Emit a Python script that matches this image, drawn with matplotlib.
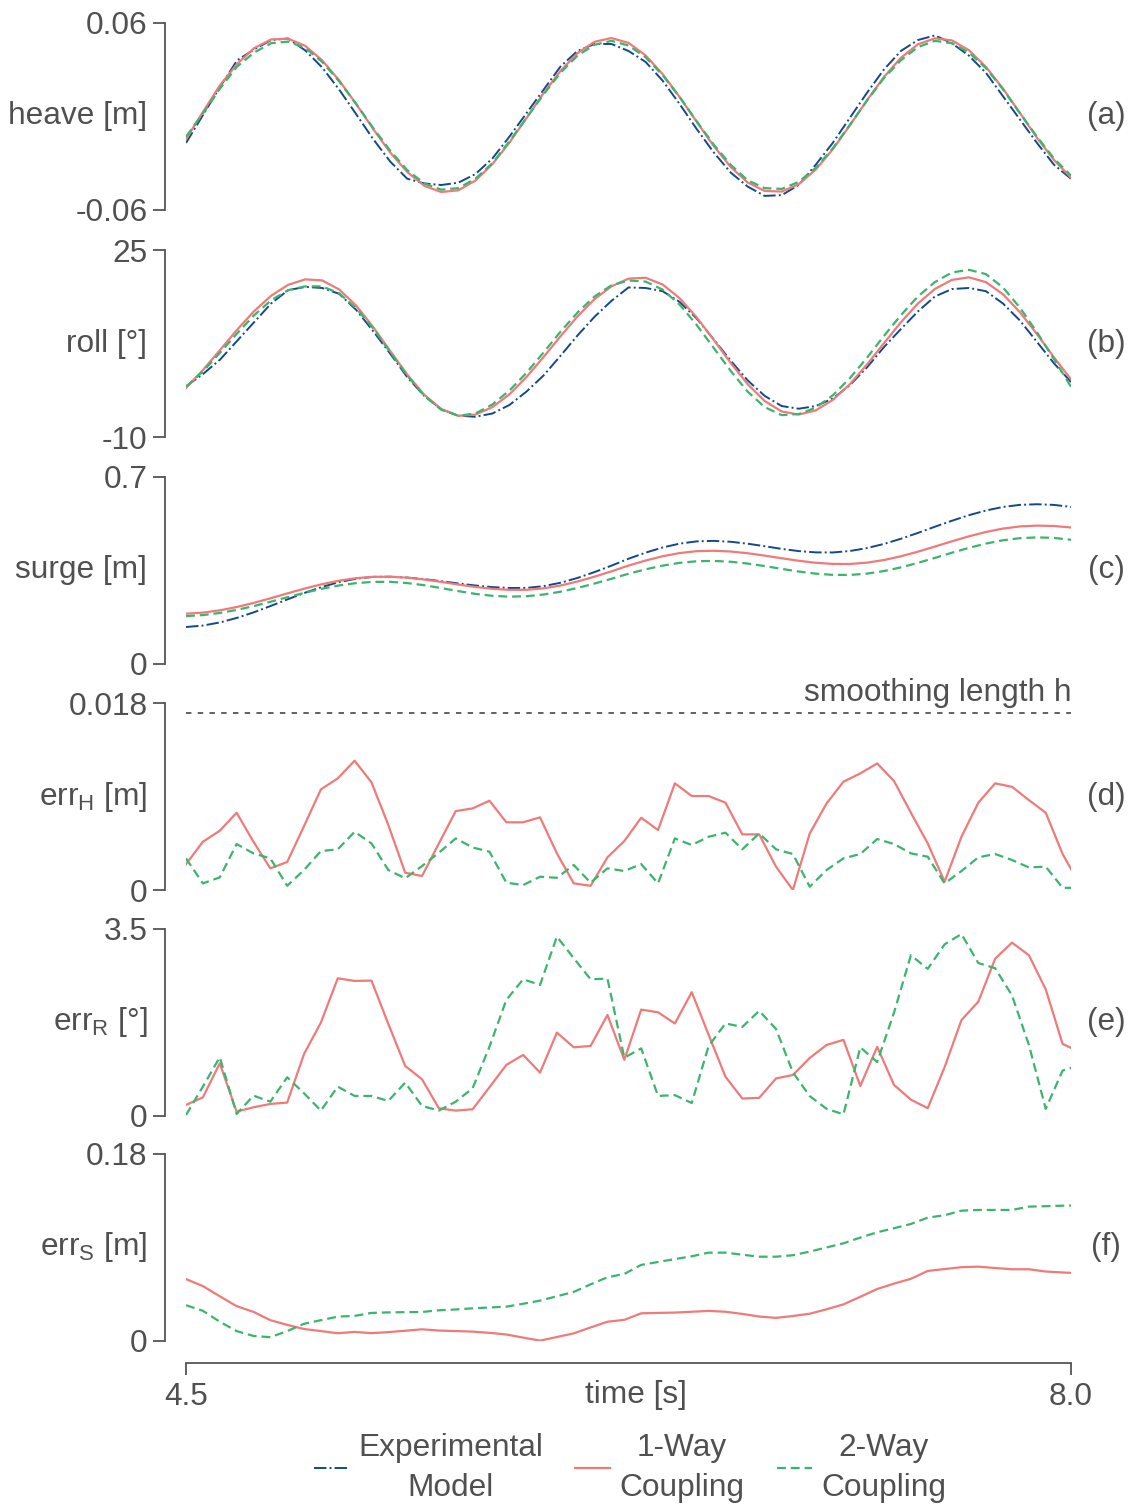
import numpy as np
import matplotlib
matplotlib.use("Agg")
import matplotlib.pyplot as plt

plt.rcParams['font.family'] = ['Liberation Sans', 'DejaVu Sans']
plt.rcParams['mathtext.default'] = 'regular'
plt.rcParams['axes.unicode_minus'] = False

# DATA GOES HERE
# motion signals, sampled evenly from 4.5 s to 8.0 s
t_motion = np.linspace(4.5, 8.0, 53)

heave_exp = [-0.017, 0.001, 0.019, 0.036, 0.043, 0.049, 0.050, 0.0424, 0.0314, 0.0172,
             0.0014, -0.0146, -0.029, -0.040, -0.043, -0.044, -0.0425, -0.037, -0.027, -0.013,
             0.002, 0.017, 0.032, 0.042, 0.0465, 0.0465, 0.042, 0.035, 0.023, 0.008,
             -0.008, -0.023, -0.036, -0.045, -0.051, -0.0505, -0.044, -0.031, -0.017, -0.001,
             0.015, 0.030, 0.042, 0.049, 0.052, 0.047, 0.039, 0.028, 0.013, -0.002,
             -0.017, -0.031, -0.040]
heave_1way = [-0.0145, 0.0030, 0.0201, 0.0337, 0.0438, 0.0494, 0.0499, 0.0453, 0.0360, 0.0231,
              0.0079, -0.0081, -0.0232, -0.0357, -0.0445, -0.0485, -0.0474, -0.0412, -0.0306, -0.0168,
              -0.0011, 0.0148, 0.0292, 0.0406, 0.0479, 0.0503, 0.0472, 0.0392, 0.0272, 0.0125,
              -0.0034, -0.0189, -0.0324, -0.0424, -0.0478, -0.0482, -0.0435, -0.0341, -0.0211, -0.0058,
              0.0102, 0.0252, 0.0376, 0.0463, 0.0501, 0.0488, 0.0425, 0.0318, 0.0179, 0.0022,
              -0.0137, -0.0280, -0.0393]
heave_2way = [-0.013, 0.002, 0.018, 0.032, 0.041, 0.047, 0.048, 0.044, 0.035, 0.0225,
              0.008, -0.0075, -0.022, -0.0345, -0.043, -0.047, -0.046, -0.040, -0.030, -0.016,
              -0.001, 0.014, 0.028, 0.039, 0.046, 0.0485, 0.0455, 0.038, 0.0265, 0.0125,
              -0.003, -0.018, -0.031, -0.041, -0.046, -0.0465, -0.042, -0.033, -0.0205, -0.0055,
              0.010, 0.0245, 0.036, 0.0445, 0.0485, 0.047, 0.041, 0.031, 0.0175, 0.002,
              -0.013, -0.027, -0.038]

roll_exp = [-0.5, 1.8, 4.5, 8.0, 11.5, 15.0, 17.5, 18.1, 17.9, 16.8,
            13.8, 9.8, 5.6, 1.2, -2.3, -4.8, -6.0, -6.2, -5.6, -4.0,
            -1.5, 1.5, 5.2, 9.0, 12.5, 15.5, 18.0, 17.9, 17.3, 15.3,
            12.2, 8.3, 4.3, 0.6, -2.3, -4.2, -4.7, -4.2, -2.8, -0.3,
            3.0, 6.8, 10.2, 13.5, 16.3, 17.7, 17.9, 17.3, 15.0, 11.8,
            7.8, 3.8, 0.3]
roll_1way = [-0.80, 2.57, 6.30, 10.08, 13.56, 16.45, 18.49, 19.51, 19.32, 17.62,
             14.59, 10.57, 6.08, 1.69, -2.09, -4.76, -6.04, -5.80, -4.41, -2.01,
             1.22, 4.95, 8.85, 12.58, 15.81, 18.21, 19.65, 19.81, 18.56, 15.99,
             12.41, 8.22, 3.88, -0.10, -3.26, -5.22, -5.79, -5.02, -3.06, -0.12,
             3.53, 7.53, 11.47, 14.98, 17.72, 19.41, 19.89, 18.99, 16.73, 13.36,
             9.27, 4.90, 0.79]
roll_2way = [-0.6, 2.3, 5.8, 9.4, 12.8, 15.6, 17.5, 18.2, 18.2, 16.9,
             14.1, 10.3, 5.9, 1.5, -2.3, -4.9, -6.0, -5.6, -3.9, -1.3,
             2.0, 5.8, 9.7, 13.3, 16.3, 18.4, 19.3, 19.1, 17.6, 14.8,
             11.0, 6.7, 2.4, -1.5, -4.4, -5.9, -5.7, -4.5, -2.2, 1.0,
             4.8, 8.9, 12.8, 16.3, 19.0, 20.8, 21.3, 20.5, 18.0, 14.2,
             9.6, 4.6, -0.6]

surge_exp = [0.1384, 0.1440, 0.1557, 0.1728, 0.1939, 0.2179, 0.2429, 0.2670, 0.2887, 0.3067,
             0.3193, 0.3261, 0.3266, 0.3235, 0.3176, 0.3099, 0.3015, 0.2938, 0.2878, 0.2845,
             0.2848, 0.2913, 0.3041, 0.3221, 0.3441, 0.3682, 0.3941, 0.4168, 0.4360, 0.4506,
             0.4590, 0.4609, 0.4575, 0.4503, 0.4408, 0.4309, 0.4226, 0.4178, 0.4175, 0.4229,
             0.4337, 0.4493, 0.4687, 0.4906, 0.5138, 0.5362, 0.5569, 0.5746, 0.5878, 0.5957,
             0.5980, 0.5955, 0.5880]
surge_1way = [0.1883, 0.1924, 0.2010, 0.2136, 0.2291, 0.2467, 0.2651, 0.2829, 0.2989, 0.3120,
              0.3214, 0.3263, 0.3266, 0.3230, 0.3161, 0.3072, 0.2974, 0.2884, 0.2814, 0.2775,
              0.2777, 0.2830, 0.2937, 0.3087, 0.3269, 0.3469, 0.3684, 0.3873, 0.4033, 0.4153,
              0.4223, 0.4239, 0.4210, 0.4146, 0.4057, 0.3958, 0.3864, 0.3789, 0.3747, 0.3744,
              0.3793, 0.3891, 0.4032, 0.4204, 0.4396, 0.4592, 0.4779, 0.4942, 0.5069, 0.5150,
              0.5180, 0.5165, 0.5110]
surge_2way = [0.1793, 0.1831, 0.1911, 0.2027, 0.2172, 0.2335, 0.2506, 0.2670, 0.2819, 0.2941,
              0.3028, 0.3074, 0.3075, 0.3030, 0.2948, 0.2840, 0.2727, 0.2625, 0.2552, 0.2521,
              0.2536, 0.2600, 0.2705, 0.2846, 0.3011, 0.3190, 0.3379, 0.3543, 0.3682, 0.3786,
              0.3846, 0.3859, 0.3828, 0.3760, 0.3666, 0.3561, 0.3461, 0.3382, 0.3337, 0.3334,
              0.3382, 0.3478, 0.3616, 0.3785, 0.3972, 0.4165, 0.4347, 0.4507, 0.4631, 0.4710,
              0.4740, 0.4720, 0.4650]

# errors, one sample every 1/15 s
t_err = 4.5 + np.arange(54) / 15.0

errH_1way = [0.00250, 0.00465, 0.00571, 0.00744, 0.00465, 0.00209, 0.00270, 0.00616, 0.00969, 0.01075,
             0.01245, 0.01037, 0.00626, 0.00167, 0.00135, 0.00449, 0.00760, 0.00786, 0.00860, 0.00652,
             0.00652, 0.00700, 0.00353, 0.00064, 0.00041, 0.00315, 0.00472, 0.00696, 0.00578, 0.01027,
             0.00905, 0.00905, 0.00841, 0.00536, 0.00536, 0.00225, 0.00000, 0.00545, 0.00834, 0.01043,
             0.01123, 0.01219, 0.01049, 0.00744, 0.00449, 0.00080, 0.00513, 0.00841, 0.01027, 0.00994,
             0.00866, 0.00744, 0.00347, 0.00060]
errH_2way = [0.00305, 0.00064, 0.00122, 0.00443, 0.00353, 0.00305, 0.00041, 0.00193, 0.00375, 0.00392,
             0.00561, 0.00449, 0.00193, 0.00113, 0.00231, 0.00359, 0.00497, 0.00410, 0.00369, 0.00071,
             0.00048, 0.00128, 0.00118, 0.00241, 0.00071, 0.00209, 0.00183, 0.00250, 0.00064, 0.00497,
             0.00433, 0.00513, 0.00552, 0.00392, 0.00545, 0.00392, 0.00347, 0.00032, 0.00193, 0.00305,
             0.00347, 0.00491, 0.00443, 0.00353, 0.00321, 0.00064, 0.00183, 0.00315, 0.00347, 0.00289,
             0.00218, 0.00225, 0.00022, 0.00020]
smoothing_h = 0.017

errR_1way = [0.206, 0.349, 0.985, 0.081, 0.162, 0.225, 0.250, 1.160, 1.747, 2.576,
             2.527, 2.533, 1.722, 0.936, 0.686, 0.143, 0.100, 0.125, 0.537, 0.955,
             1.142, 0.811, 1.560, 1.285, 1.310, 1.890, 1.050, 1.990, 1.940, 1.731,
             2.317, 1.520, 0.734, 0.326, 0.338, 0.702, 0.766, 1.086, 1.329, 1.424,
             0.561, 1.295, 0.580, 0.305, 0.146, 0.913, 1.795, 2.139, 2.944, 3.244,
             3.008, 2.370, 1.348, 1.200]
errR_2way = [0.019, 0.549, 1.098, 0.037, 0.380, 0.268, 0.724, 0.424, 0.100, 0.549,
             0.374, 0.374, 0.281, 0.624, 0.187, 0.100, 0.268, 0.518, 1.297, 2.171,
             2.558, 2.452, 3.356, 2.952, 2.558, 2.570, 1.090, 1.265, 0.375, 0.389,
             0.242, 1.308, 1.731, 1.666, 1.967, 1.628, 0.816, 0.371, 0.133, 0.030,
             1.284, 1.009, 1.935, 3.008, 2.753, 3.212, 3.405, 2.862, 2.765, 2.254,
             1.329, 0.133, 0.850, 0.950]

errS_1way = [0.0595, 0.0528, 0.0430, 0.0335, 0.0280, 0.0200, 0.0155, 0.0115, 0.0095, 0.0074,
             0.0087, 0.0075, 0.0085, 0.0098, 0.0112, 0.0100, 0.0095, 0.0090, 0.0078, 0.0062,
             0.0032, 0.0003, 0.0038, 0.0073, 0.0130, 0.0185, 0.0203, 0.0266, 0.0270, 0.0273,
             0.0281, 0.0289, 0.0281, 0.0260, 0.0235, 0.0222, 0.0240, 0.0262, 0.0305, 0.0352,
             0.0425, 0.0500, 0.0552, 0.0598, 0.0674, 0.0692, 0.0710, 0.0715, 0.0702, 0.0690,
             0.0690, 0.0668, 0.0659, 0.0652]
errS_2way = [0.0344, 0.0290, 0.0185, 0.0095, 0.0048, 0.0036, 0.0095, 0.0165, 0.0200, 0.0234,
             0.0241, 0.0270, 0.0275, 0.0277, 0.0279, 0.0295, 0.0303, 0.0314, 0.0322, 0.0330,
             0.0358, 0.0388, 0.0430, 0.0472, 0.0545, 0.0613, 0.0645, 0.0732, 0.0760, 0.0788,
             0.0815, 0.0850, 0.0850, 0.0830, 0.0811, 0.0811, 0.0825, 0.0860, 0.0900, 0.0940,
             0.0995, 0.1046, 0.1085, 0.1126, 0.1187, 0.1210, 0.1254, 0.1261, 0.1261, 0.1261,
             0.1293, 0.1297, 0.1302, 0.1305]

# panel limits and labels
y_labels = ['heave [m]', 'roll [°]', 'surge [m]',
            'err$_{H}$ [m]', 'err$_{R}$ [°]', 'err$_{S}$ [m]']
y_limits = [(-0.06, 0.06), (-10, 25), (0, 0.7), (0, 0.018), (0, 3.5), (0, 0.18)]
y_ticklabels = [('-0.06', '0.06'), ('-10', '25'), ('0', '0.7'),
                ('0', '0.018'), ('0', '3.5'), ('0', '0.18')]
tags = ['(a)', '(b)', '(c)', '(d)', '(e)', '(f)']
x_range = (4.5, 8.0)
x_ticklabels = ['4.5', '8.0']
legend_labels = ['Experimental\nModel', '1-Way\nCoupling', '2-Way\nCoupling']

# Style
TXT = '#505050'
SPINE = '#555555'
C_EXP = '#12498a'
C_1W = '#f07a7a'
C_2W = '#3bb56d'
FS = 22.8

sty_exp = dict(color=C_EXP, lw=1.4, ls='-.')
sty_1w = dict(color=C_1W, lw=1.6, ls='-')
sty_2w = dict(color=C_2W, lw=1.6, ls=(0, (4, 2.2)))

fig = plt.figure(figsize=(11.33, 15.06), dpi=100)

left, width, height = 0.1642, 0.7811, 0.12417
bottoms = [0.8606, 0.7098, 0.5591, 0.4090, 0.2590, 0.1096]
axes = [fig.add_axes([left, b, width, height]) for b in bottoms]

# Line plots
axes[0].plot(t_motion, heave_exp, **sty_exp)
axes[0].plot(t_motion, heave_1way, **sty_1w)
axes[0].plot(t_motion, heave_2way, **sty_2w)

axes[1].plot(t_motion, roll_exp, **sty_exp)
axes[1].plot(t_motion, roll_1way, **sty_1w)
axes[1].plot(t_motion, roll_2way, **sty_2w)

axes[2].plot(t_motion, surge_exp, **sty_exp)
axes[2].plot(t_motion, surge_1way, **sty_1w)
axes[2].plot(t_motion, surge_2way, **sty_2w)

axes[3].plot(x_range, [smoothing_h, smoothing_h], color='#555555', lw=1.3, ls=(0, (3, 3.5)))
axes[3].annotate('smoothing length h', xy=(x_range[1], smoothing_h), xytext=(0, 4),
                 textcoords='offset points', ha='right', va='bottom', fontsize=FS, color=TXT)
axes[3].plot(t_err, errH_1way, **sty_1w)
axes[3].plot(t_err, errH_2way, **sty_2w)

axes[4].plot(t_err, errR_1way, **sty_1w)
axes[4].plot(t_err, errR_2way, **sty_2w)

axes[5].plot(t_err, errS_1way, **sty_1w)
axes[5].plot(t_err, errS_2way, **sty_2w)

for i, ax in enumerate(axes):
    ax.set_xlim(x_range)
    ax.set_ylim(y_limits[i])
    for s in ['top', 'right', 'bottom']:
        ax.spines[s].set_visible(False)
    ax.spines['left'].set_position(('outward', 15.1))
    ax.spines['left'].set_color(SPINE)
    ax.spines['left'].set_linewidth(1.3)
    ax.set_yticks(y_limits[i])
    ax.set_yticklabels(y_ticklabels[i])
    ax.tick_params(axis='y', length=8.6, width=1.3, color=SPINE,
                   labelsize=FS, labelcolor=TXT, pad=4)
    ax.set_xticks([])
    ax.set_ylabel(y_labels[i], rotation=0, ha='right', va='center',
                  fontsize=FS, color=TXT)
    ax.yaxis.set_label_coords(-0.044, 0.5)
    ax.text(1.0395, 0.5, tags[i], transform=ax.transAxes, ha='center',
            va='center', fontsize=FS, color=TXT)

# bottom axis of last panel
axb = axes[5]
axb.spines['bottom'].set_visible(True)
axb.spines['bottom'].set_position(('outward', 15.8))
axb.spines['bottom'].set_color(SPINE)
axb.spines['bottom'].set_linewidth(1.3)
axb.set_xticks(x_range)
axb.set_xticklabels(x_ticklabels)
axb.tick_params(axis='x', length=8.6, width=1.3, color=SPINE,
                labelsize=FS, labelcolor=TXT, pad=5)
axb.set_xlabel('time [s]', fontsize=FS, color=TXT, va='center')
axb.xaxis.set_label_coords(0.508, -0.29)

# Legend
handles = [plt.Line2D([], [], **sty_exp), plt.Line2D([], [], **sty_1w),
           plt.Line2D([], [], **sty_2w)]
leg = fig.legend(handles, legend_labels, loc='center', ncol=3, frameon=False,
                 bbox_to_anchor=(630 / 1133, 1 - 1468 / 1506), fontsize=FS,
                 handlelength=1.1, handletextpad=0.3, columnspacing=1.02)
for t in leg.get_texts():
    t.set_multialignment('center')
    t.set_color(TXT)
    t.set_linespacing(1.42)

fig.savefig('out.png', dpi=100)
plt.close(fig)
